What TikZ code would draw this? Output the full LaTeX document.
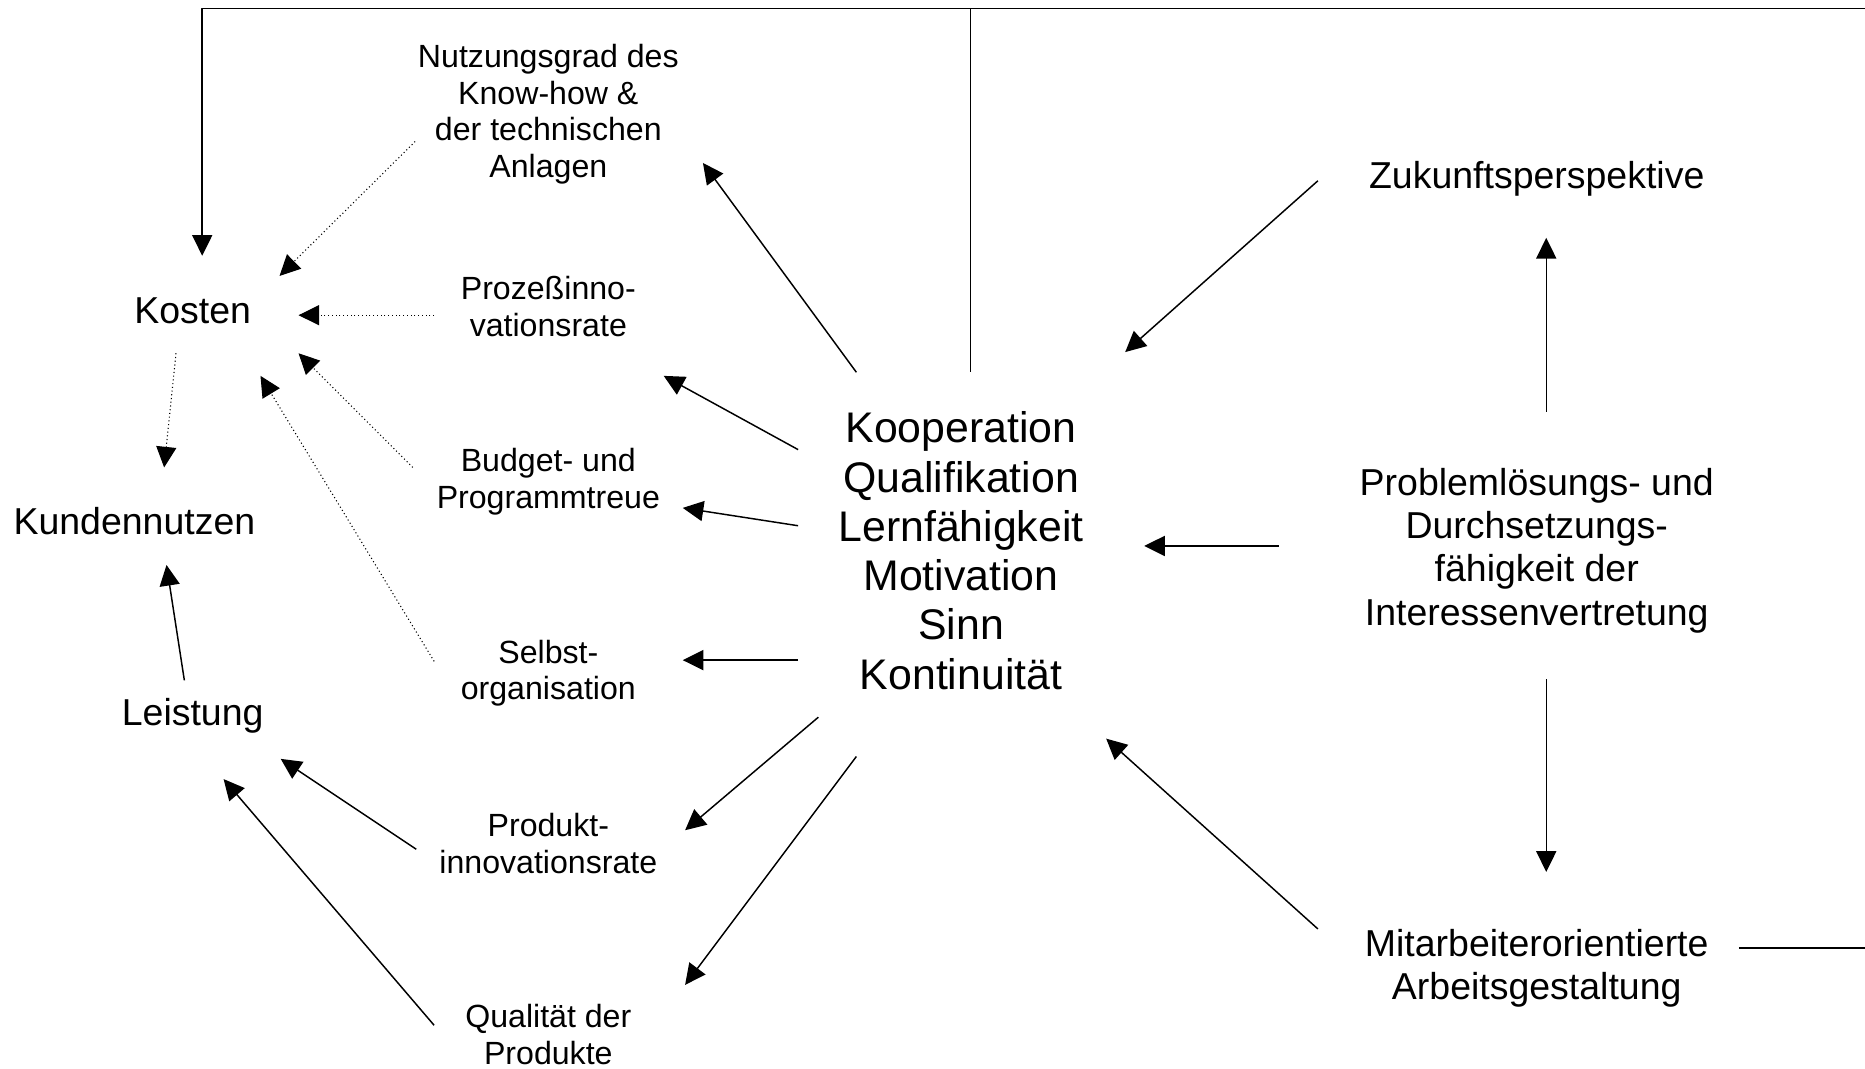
\documentclass[tikz,border=0pt]{standalone}
\usepackage{fontspec}
\setmainfont{Liberation Sans}
\usetikzlibrary{arrows.meta}

\begin{document}
\begin{tikzpicture}[x=0.4444pt, y=-0.4444pt, >={Triangle[length=7.7pt,width=7.5pt]},
	line width=0.55pt, line join=round,
	klein/.style={align=center, inner sep=0pt, font=\fontsize{12}{13.8}\selectfont},
	mittel/.style={align=center, inner sep=0pt, font=\fontsize{14}{16.1}\selectfont},
	gross/.style={align=center, inner sep=0pt, font=\fontsize{16}{18.4}\selectfont},
	punkt/.style={densely dotted, line width=0.4pt}]
	\useasboundingbox (0,0) rectangle (1568,898);
	% Texte
	\node[mittel] (kosten) at (162,261) {Kosten};
	\node[mittel] (kunde) at (113,438) {Kundennutzen};
	\node[mittel] (leistung) at (162,602) {Leistung};
	\node[klein] (nutzung) at (461,96) {Nutzungsgrad des\\Know-how \&\\der technischen\\Anlagen};
	\node[klein] (prozess) at (461,258) {Prozeßinno-\\vationsrate};
	\node[klein] (budget) at (461,405) {Budget- und\\Programmtreue};
	\node[klein] (selbst) at (461,566) {Selbst-\\organisation};
	\node[klein] (produkt) at (461,709) {Produkt-\\innovationsrate};
	\node[klein] (qualitaet) at (461,870) {Qualität der\\Produkte};
	\node[gross] (zentrum) at (808,463) {Kooperation\\Qualifikation\\Lernfähigkeit\\Motivation\\Sinn\\Kontinuität};
	\node[mittel] (zukunft) at (1292,150) {Zukunftsperspektive};
	\node[mittel] (problem) at (1292,463) {Problemlösungs- und\\Durchsetzungs-\\fähigkeit der\\Interessenvertretung};
	\node[mittel] (mitarbeiter) at (1292,814) {Mitarbeiterorientierte\\Arbeitsgestaltung};
	% Anfangs- und Endpunkte der Pfeile
	\path
	(170,7) coordinate (OL)
	(816,7) coordinate (OM)
	(1568,7) coordinate (OR)
	(170,215) coordinate (K0)
	(816,313) coordinate (Z0)
	(155,572) coordinate (L1) (140,475) coordinate (KN1)
	(148,297) coordinate (K1) (138,393) coordinate (KN2)
	(349,119) coordinate (N1) (235,232) coordinate (K2)
	(365,265) coordinate (P1) (251,265) coordinate (K3)
	(347,393) coordinate (B1) (251,297) coordinate (K4)
	(365,556) coordinate (S1) (219,316) coordinate (K5)
	(720,313) coordinate (Z1) (591,137) coordinate (N2)
	(671,378) coordinate (Z2) (558,316) coordinate (P2)
	(671,442) coordinate (Z3) (574,427) coordinate (B2)
	(671,555) coordinate (Z4) (574,555) coordinate (S2)
	(688,603) coordinate (Z5) (576,698) coordinate (PR2)
	(720,636) coordinate (Z6) (576,828) coordinate (Q2)
	(350,714) coordinate (PR1) (236,638) coordinate (L2)
	(365,862) coordinate (Q1) (188,655) coordinate (L3)
	(1108,152) coordinate (ZK1) (946,296) coordinate (Z7)
	(1075,459) coordinate (PL1) (962,459) coordinate (Z8)
	(1108,781) coordinate (M1) (930,621) coordinate (Z9)
	(1300,346) coordinate (PL2) (1300,200) coordinate (ZK2)
	(1300,571) coordinate (PL3) (1300,733) coordinate (M2)
	(1462,797) coordinate (M3) (1568,797) coordinate (RR)
	;
	% Rahmenlinie oben
	\draw[->] (OR)--(OL)--(K0);
	\draw (OM)--(Z0);
	\draw (M3)--(RR);
	% durchgezogene Pfeile
	\foreach \a/\b in {L1/KN1,Z1/N2,Z2/P2,Z3/B2,Z4/S2,Z5/PR2,Z6/Q2,PR1/L2,Q1/L3,ZK1/Z7,PL1/Z8,M1/Z9,PL2/ZK2,PL3/M2}
	\draw[->] (\a)--(\b);
	% gepunktete Pfeile
	\foreach \a/\b in {K1/KN2,N1/K2,P1/K3,B1/K4,S1/K5}
	\draw[->, punkt] (\a)--(\b);
\end{tikzpicture}
\end{document}
